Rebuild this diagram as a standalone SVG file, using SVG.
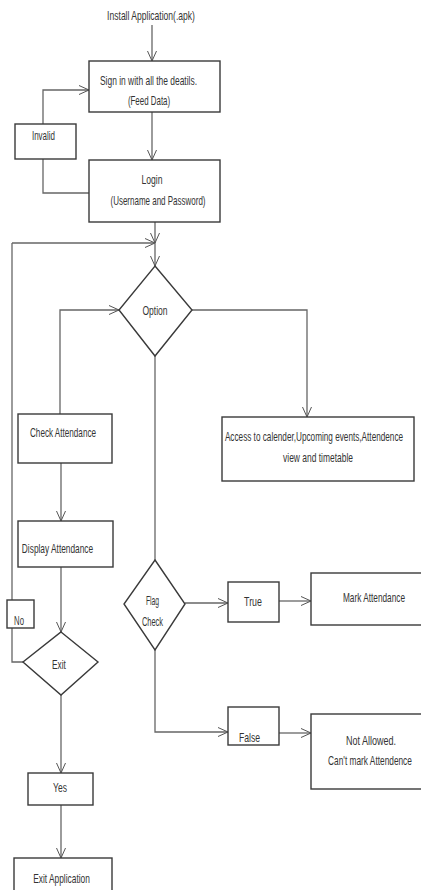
<svg xmlns="http://www.w3.org/2000/svg" width="421" height="890" viewBox="0 0 421 890">
<defs>
<marker id="arr" markerUnits="userSpaceOnUse" markerWidth="12" markerHeight="12" refX="10" refY="4.5" orient="auto" overflow="visible">
<path d="M0,0 L10,4.5 L0,9" fill="none" stroke="#555" stroke-width="1"/>
</marker>
<style>
.box{fill:#fff;stroke:#3a3a3a;stroke-width:1.4}
.ln{fill:none;stroke:#666;stroke-width:1.3}
.ah{marker-end:url(#arr)}
text{font-family:"Liberation Sans",Arial,sans-serif;font-size:13px;fill:#333;text-anchor:middle}
</style>
</defs>
<rect width="421" height="890" fill="#fff"/>
<g id="connectors">
<line class="ln ah" x1="152" y1="25" x2="152" y2="61"/>
<line class="ln ah" x1="152" y1="112" x2="152" y2="160"/>
<polyline class="ln ah" points="43,124 43,90 89,90"/>
<polyline class="ln" points="43,159 43,193 89,193"/>
<line class="ln ah" x1="155" y1="222" x2="155" y2="243"/>
<line class="ln ah" x1="12" y1="243" x2="155" y2="243"/>
<line class="ln ah" x1="155" y1="243" x2="155" y2="266"/>
<line class="ln" x1="12" y1="600" x2="12" y2="243"/>
<polyline class="ln" points="12,628 12,662 23,662"/>
<polyline class="ln ah" points="60,414 60,310 119,310"/>
<polyline class="ln ah" points="192,310 307,310 307,417"/>
<line class="ln" x1="155" y1="356" x2="155" y2="560"/>
<line class="ln ah" x1="61" y1="463" x2="61" y2="521"/>
<line class="ln ah" x1="61" y1="567" x2="61" y2="632"/>
<line class="ln ah" x1="61" y1="695" x2="61" y2="773"/>
<line class="ln ah" x1="61" y1="805" x2="61" y2="858"/>
<line class="ln ah" x1="185" y1="603" x2="228" y2="603"/>
<line class="ln ah" x1="279" y1="601" x2="311" y2="601"/>
<polyline class="ln ah" points="155,650 155,732 228,732"/>
<line class="ln ah" x1="279" y1="733" x2="311" y2="733"/>
</g>
<g id="install"><text transform="translate(151,19.5) scale(0.66,1)" textLength="133" lengthAdjust="spacingAndGlyphs">Install Application(.apk)</text></g>
<g id="signin"><rect class="box" x="89" y="61" width="131" height="51"/>
<text transform="translate(148.5,84.5) scale(0.66,1)" textLength="147" lengthAdjust="spacingAndGlyphs">Sign in with all the deatils.</text>
<text transform="translate(149,104.5) scale(0.66,1)" textLength="64" lengthAdjust="spacingAndGlyphs">(Feed Data)</text></g>
<g id="invalid"><rect class="box" x="15" y="124" width="61" height="35"/>
<text transform="translate(43.5,140) scale(0.66,1)" textLength="35" lengthAdjust="spacingAndGlyphs">Invalid</text></g>
<g id="login"><rect class="box" x="89" y="160" width="131" height="62"/>
<text transform="translate(152,183.5) scale(0.66,1)" textLength="32" lengthAdjust="spacingAndGlyphs">Login</text>
<text transform="translate(158,204.5) scale(0.66,1)" textLength="144" lengthAdjust="spacingAndGlyphs">(Username and Password)</text></g>
<g id="option"><polygon class="box" points="155,266 192,310 155,356 119,310"/>
<text transform="translate(155,314.5) scale(0.66,1)" textLength="38" lengthAdjust="spacingAndGlyphs">Option</text></g>
<g id="access"><rect class="box" x="222" y="417" width="192" height="64"/>
<text transform="translate(314,440.5) scale(0.66,1)" textLength="270" lengthAdjust="spacingAndGlyphs">Access to calender,Upcoming events,Attendence</text>
<text transform="translate(318,461.5) scale(0.66,1)" textLength="106" lengthAdjust="spacingAndGlyphs">view and timetable</text></g>
<g id="check"><rect class="box" x="18" y="414" width="94" height="49"/>
<text transform="translate(63,436.5) scale(0.66,1)" textLength="100" lengthAdjust="spacingAndGlyphs">Check Attendance</text></g>
<g id="display"><rect class="box" x="18" y="521" width="95" height="46"/>
<text transform="translate(57.5,552.5) scale(0.66,1)" textLength="108" lengthAdjust="spacingAndGlyphs">Display Attendance</text></g>
<g id="no"><rect class="box" x="7" y="600" width="27" height="28"/>
<text transform="translate(19,624.5) scale(0.66,1)" textLength="15" lengthAdjust="spacingAndGlyphs">No</text></g>
<g id="exit"><polygon class="box" points="61,632 98,662 61,695 23,662"/>
<text transform="translate(59,668.5) scale(0.66,1)" textLength="21" lengthAdjust="spacingAndGlyphs">Exit</text></g>
<g id="flag"><polygon class="box" points="155,560 185,604 155,650 124,604"/>
<text transform="translate(152.5,604.5) scale(0.66,1)" textLength="20" lengthAdjust="spacingAndGlyphs">Flag</text>
<text transform="translate(152.5,625.5) scale(0.66,1)" textLength="32" lengthAdjust="spacingAndGlyphs">Check</text></g>
<g id="true"><rect class="box" x="228" y="582" width="51" height="40"/>
<text transform="translate(253,605.5) scale(0.66,1)" textLength="27" lengthAdjust="spacingAndGlyphs">True</text></g>
<g id="mark"><rect class="box" x="311" y="573" width="115" height="52"/>
<text transform="translate(374,601.5) scale(0.66,1)" textLength="94" lengthAdjust="spacingAndGlyphs">Mark Attendance</text></g>
<g id="false"><rect class="box" x="228" y="707" width="51" height="38"/>
<text transform="translate(249.5,741.5) scale(0.66,1)" textLength="32" lengthAdjust="spacingAndGlyphs">False</text></g>
<g id="notallowed"><rect class="box" x="311" y="714" width="115" height="75"/>
<text transform="translate(371,744.5) scale(0.66,1)" textLength="76" lengthAdjust="spacingAndGlyphs">Not Allowed.</text>
<text transform="translate(370,764.5) scale(0.66,1)" textLength="127" lengthAdjust="spacingAndGlyphs">Can't mark Attendence</text></g>
<g id="yes"><rect class="box" x="28" y="773" width="65" height="32"/>
<text transform="translate(60,791.5) scale(0.66,1)" textLength="21" lengthAdjust="spacingAndGlyphs">Yes</text></g>
<g id="exitapp"><rect class="box" x="14" y="858" width="98" height="40"/>
<text transform="translate(61.5,882.5) scale(0.66,1)" textLength="86" lengthAdjust="spacingAndGlyphs">Exit Application</text></g>
</svg>
